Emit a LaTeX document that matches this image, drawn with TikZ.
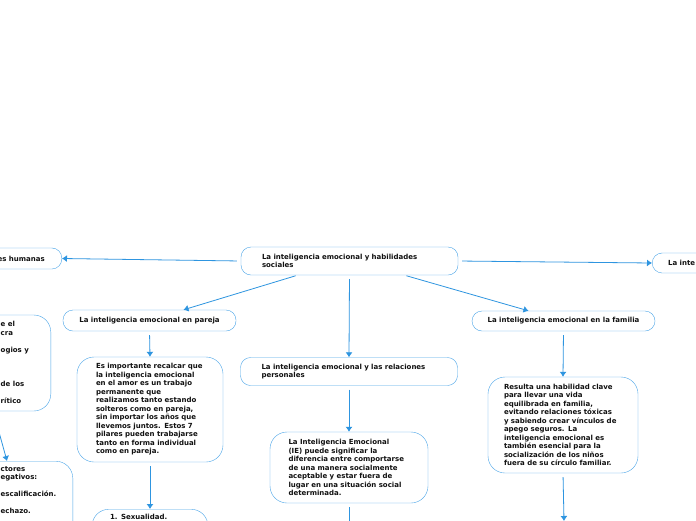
\documentclass[tikz,border=0pt]{standalone}
\usepackage{fontspec}
\setmainfont{DejaVu Sans}
\usetikzlibrary{arrows.meta, positioning}
\definecolor{MapBlue}{HTML}{2E95E0}
\definecolor{EdgeBlue}{HTML}{4AA5E8}
\definecolor{Ink}{HTML}{111111}
\tikzset{
  pill/.style={draw=EdgeBlue, thin, fill=white, rounded corners=10pt,
               inner sep=0pt, font=\fontsize{7}{8.5}\selectfont\bfseries,
               text=Ink},
  card/.style={draw=EdgeBlue, thin, fill=white, rounded corners=17pt,
               inner sep=0pt, font=\fontsize{7}{8.5}\selectfont\bfseries,
               text=Ink},
  cardtext/.style={inner sep=0pt, align=left, anchor=west,
                   font=\fontsize{7}{8.5}\selectfont\bfseries, text=Ink},
  maparrow/.style={-{Latex[length=5pt, width=7pt]}, draw=MapBlue, thick},
  mapline/.style={draw=MapBlue, thick},
}

\begin{document}
\begin{tikzpicture}[x=1pt, y=-1pt]
  \useasboundingbox (0,0) rectangle (696,520);
  \fill[white] (0,0) rectangle (696,520);
  \clip (0,0) rectangle (696,520);

  % centre of the map
  \node[pill, minimum width=217, minimum height=28, text width=175,
        align=left, inner xsep=21pt] (habil) at (349.5,261)
    {La inteligencia emocional y habilidades\\sociales};

  % first ring
  \node[pill, anchor=east, minimum width=130, minimum height=21,
        text width=96, align=right, inner xsep=17pt] (humanas) at (62,258.5)
    {es humanas};
  \node[pill, anchor=west, minimum width=130, minimum height=20,
        text width=98, align=left, inner xsep=16pt] (derecha) at (652,263)
    {La inte};
  \node[pill, minimum width=173, minimum height=21] (pareja) at (149.5,320.5)
    {La inteligencia emocional en pareja};
  \node[pill, minimum width=217, minimum height=28, text width=175,
        align=left, inner xsep=21pt] (relac) at (349,371.5)
    {La inteligencia emocional y las relaciones\\personales};
  \node[pill, minimum width=183, minimum height=20] (familia) at (563.5,321)
    {La inteligencia emocional en la familia};

  % second ring
  \node[card, minimum width=146, minimum height=105, text width=108,
        align=left, inner xsep=19pt] (parejatxt) at (150,409.5)
    {Es importante recalcar que\\la inteligencia emocional\\en el amor es un trabajo\\
     permanente que\\realizamos tanto estando\\solteros como en pareja,\\
     sin importar los años que\\llevemos juntos. Estos 7\\pilares pueden trabajarse\\
     tanto en forma individual\\como en pareja.};
  \node[card, minimum width=158, minimum height=71, text width=121,
        align=left, inner xsep=18pt] (relactxt) at (349,467.5)
    {La Inteligencia Emocional\\(IE) puede significar la\\diferencia entre comportarse\\
     de una manera socialmente\\aceptable y estar fuera de\\lugar en una situación social\\
     determinada.};
  \node[card, minimum width=150, minimum height=96, text width=118,
        align=left, inner xsep=16pt] (familiatxt) at (563,425)
    {Resulta una habilidad clave\\para llevar una vida\\equilibrada en familia,\\
     evitando relaciones tóxicas\\y sabiendo crear vínculos de\\apego seguros. La\\
     inteligencia emocional es\\también esencial para la\\socialización de los niños\\
     fuera de su círculo familiar.};
  \node[card, anchor=north, minimum width=108, minimum height=60,
        text width=80, align=left, inner xsep=18pt, inner ysep=5pt,
        text depth=48pt] (sexual) at (150,509)
    {1. Sexualidad.};

  % left column, cut by the frame
  \node[card, anchor=east, minimum width=110, minimum height=96] (izqA) at (51,363) {};
  \node[cardtext] (izqAtxt) at (0.5,362.5)
    {e el\\cra\\ \\ogios y\\ \\ \\ \\de los\\ \\rítico};
  \node[card, anchor=north east, minimum width=130, minimum height=90] (izqB) at (73,461) {};
  \node[cardtext, anchor=north west] (izqBtxt) at (0.5,466)
    {ctores\\egativos:\\ \\escalificación.\\ \\echazo.};

  % free ends beyond the frame
  \coordinate (fueraA) at (-6,414);
  \coordinate (fueraB) at (349,540);
  \coordinate (fueraC) at (564,521);

  % connectors
  \draw[maparrow, shorten <=4pt] (habil.west) -- (humanas.east);
  \draw[maparrow, shorten <=4pt] (habil.east) -- (derecha.west);
  \draw[maparrow, shorten <=2pt] ([xshift=-52pt]habil.south) -- ([xshift=34pt]pareja.north);
  \draw[maparrow, shorten <=4pt] (habil.south) -- (relac.north);
  \draw[maparrow, shorten <=2pt] ([xshift=55pt]habil.south) -- ([xshift=-35pt]familia.north);
  \draw[maparrow, shorten <=4pt] (pareja.south) -- (parejatxt.north);
  \draw[maparrow, shorten <=4pt] (relac.south) -- (relactxt.north);
  \draw[maparrow, shorten <=4pt] (familia.south) -- (familiatxt.north);
  \draw[maparrow, shorten <=4pt] (parejatxt.south) -- (sexual.north);
  \draw[mapline, shorten <=4pt] (relactxt.south) -- (fueraB);
  \draw[maparrow, shorten <=4pt] (familiatxt.south) -- (fueraC);
  \draw[maparrow] (fueraA) -- ([xshift=-66pt]izqB.north east);
\end{tikzpicture}
\end{document}
